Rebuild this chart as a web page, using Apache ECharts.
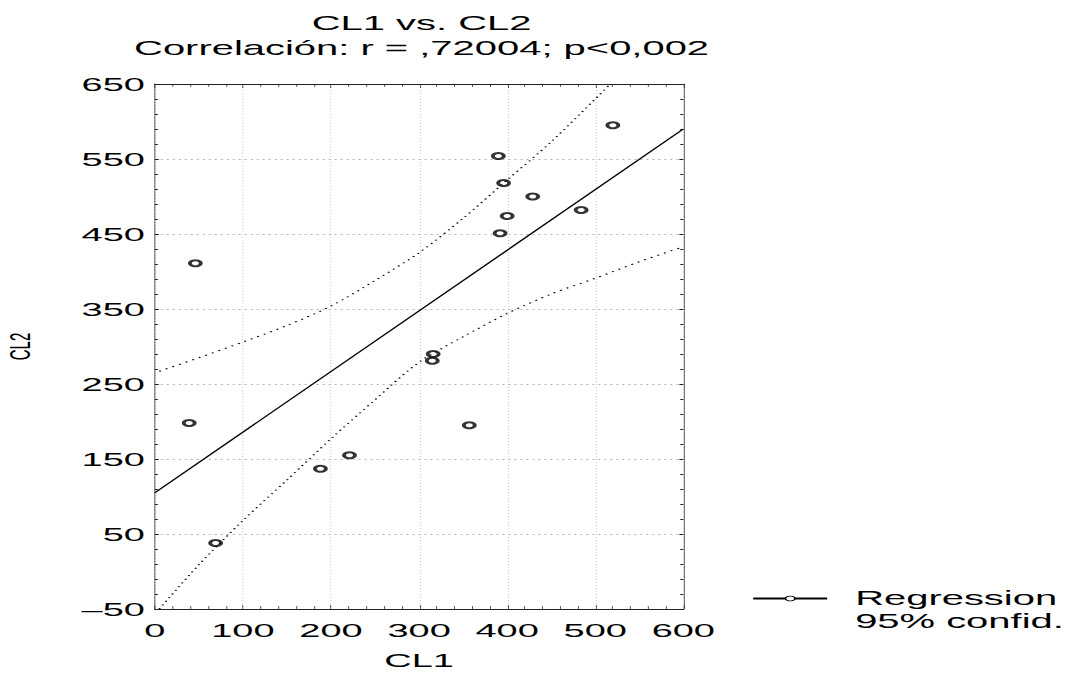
<!DOCTYPE html>
<html>
<head>
<meta charset="utf-8">
<title>CL1 vs. CL2</title>
<script src="https://cdn.jsdelivr.net/npm/echarts@6/dist/echarts.min.js"></script>
<style>
  html, body { margin: 0; padding: 0; background: #fff; overflow: hidden; }
  /* the original plot is stretched sideways, so draw narrow and widen it */
  #chart { width: 538px; height: 675px; transform: scaleX(1.998); transform-origin: 0 0; }
</style>
</head>
<body>
<div id="chart"></div>
<script>
  // observed points
  var cl1 = [520, 390, 396, 429, 484, 400, 392, 46, 316, 315, 39, 357, 221, 188, 69]
  var cl2 = [595, 554, 518, 500, 482, 474, 451, 411, 290, 281, 198, 195, 155, 137, 38]

  // regression line
  var regX = [0, 600]
  var regY = [105, 590]

  // 95% confidence band
  var upperX = [5, 50, 100, 150, 200, 250, 300, 350, 400, 450, 500, 517]
  var upperY = [267, 285, 306, 328, 354, 388, 425, 471, 522, 573, 630, 650]
  var lowerX = [5, 50, 100, 150, 200, 250, 300, 350, 400, 450, 500, 550, 600]
  var lowerY = [-50, 9, 68, 122, 177, 229, 279, 313, 344, 370, 391, 413, 433]

  // axis ranges
  var xMin = 0, xMax = 600, xStep = 100
  var yMin = -50, yMax = 650, yStep = 100

  function pairs(xs, ys) {
    return xs.map(function (x, i) { return [x, ys[i]] })
  }

  var font = 'Liberation Sans, Arial, sans-serif'
  var gridLineX = { show: true, lineStyle: { color: '#b4b4b4', type: [1, 2], width: 0.5 } }
  var gridLineY = { show: true, lineStyle: { color: '#b4b4b4', type: [1, 2], width: 1 } }

  function xAxis(pos, main) {
    return {
      type: 'value', position: pos, min: xMin, max: xMax, interval: xStep,
      name: main ? 'CL1' : '', nameLocation: 'middle', nameGap: 42,
      nameTextStyle: { fontFamily: font, fontSize: 19, color: '#000' },
      axisLine: { show: true, onZero: false, lineStyle: { color: '#222', width: 1 } },
      axisTick: { show: true, inside: true, length: 4, lineStyle: { color: '#222', width: 0.5 } },
      minorTick: { show: true, splitNumber: 5, length: 3, lineStyle: { color: '#222', width: 0.5 } },
      axisLabel: { show: main, margin: 12, fontFamily: font, fontSize: 19, color: '#000' },
      splitLine: main ? gridLineX : { show: false }
    }
  }

  function yAxis(pos, main) {
    return {
      type: 'value', position: pos, min: yMin, max: yMax, interval: yStep,
      name: main ? 'CL2' : '', nameLocation: 'middle', nameGap: 60,
      nameTextStyle: { fontFamily: font, fontSize: 15, color: '#000' },
      axisLine: { show: true, onZero: false, lineStyle: { color: '#222', width: 0.5 } },
      axisTick: { show: true, inside: true, length: 2, lineStyle: { color: '#222', width: 1 } },
      minorTick: { show: true, splitNumber: 5, length: 1.5, lineStyle: { color: '#222', width: 1 } },
      axisLabel: {
        show: main, margin: 5, fontFamily: font, fontSize: 19, color: '#000',
        formatter: function (v) { return String(v).replace('-', '\u2013') }
      },
      splitLine: main ? gridLineY : { show: false }
    }
  }

  var chart = echarts.init(document.getElementById('chart'), null, { renderer: 'svg' })
  chart.setOption({
    animation: false,
    backgroundColor: '#fff',
    title: {
      text: 'CL1 vs. CL2\nCorrelación: r = ,72004; p<0,002',
      left: 206, top: 6, textAlign: 'center',
      textStyle: { fontFamily: font, fontSize: 20, fontWeight: 'normal', color: '#000', lineHeight: 25 }
    },
    legend: {
      orient: 'vertical', left: 376, top: 588, itemGap: 2, padding: 0,
      itemWidth: 37, itemHeight: 6,
      itemStyle: { color: '#fff', borderColor: '#000', borderWidth: 0.8 },
      textStyle: { fontFamily: font, fontSize: 20, color: '#000', lineHeight: 21, padding: [0, 0, 0, 9] },
      data: [
        { name: 'Regression' },
        { name: '95% confid.', icon: 'none' }
      ]
    },
    grid: { left: 77.5, right: 196, top: 84, bottom: 66 },
    xAxis: [xAxis('bottom', true), xAxis('top', false)],
    yAxis: [yAxis('left', true), yAxis('right', false)],
    series: [
      {
        name: 'Regression', type: 'line', data: pairs(regX, regY),
        showSymbol: false, symbol: 'circle',
        itemStyle: { color: '#000' },
        lineStyle: { color: '#000', width: 1 }
      },
      {
        name: '95% confid.', type: 'line', data: pairs(upperX, upperY),
        showSymbol: false, smooth: 0.3,
        itemStyle: { color: '#000' },
        lineStyle: { color: '#000', width: 1, type: [1, 3] }
      },
      {
        name: '95% confid.', type: 'line', data: pairs(lowerX, lowerY),
        showSymbol: false, smooth: 0.3,
        itemStyle: { color: '#000' },
        lineStyle: { color: '#000', width: 1, type: [1, 3] }
      },
      {
        name: 'CL2', type: 'scatter', data: pairs(cl1, cl2),
        symbol: 'emptyCircle', symbolSize: [5.5, 6],
        itemStyle: { color: '#000', borderWidth: 0.8 }
      }
    ]
  })
</script>
</body>
</html>
